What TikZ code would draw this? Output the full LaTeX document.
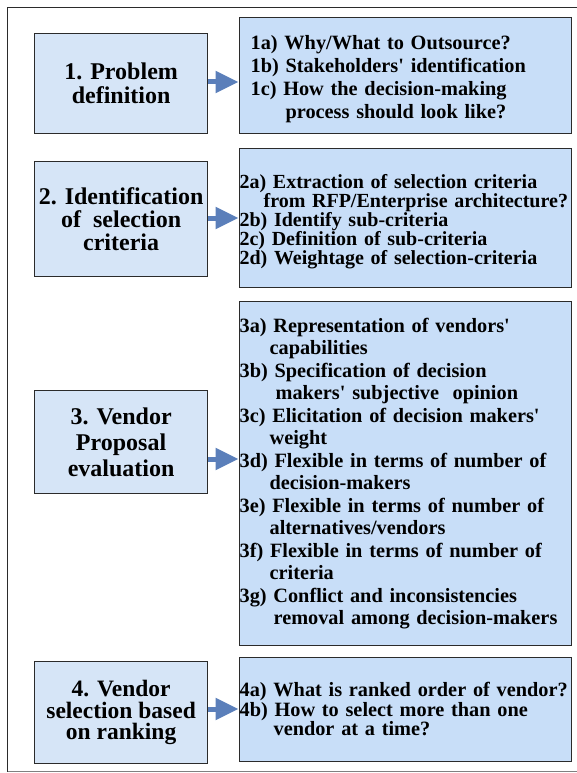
\documentclass[tikz,border=0pt]{standalone}
\usepackage{fontspec}
\setmainfont{Liberation Serif}[BoldFont={Liberation Serif Bold}]
\usetikzlibrary{arrows.meta}

\definecolor{stagefill}{HTML}{D6E5F7}
\definecolor{detailfill}{HTML}{C8DEF8}
\definecolor{flowblue}{HTML}{5B7FBA}
\definecolor{edgegray}{HTML}{2B2B2B}

\hyphenpenalty=10000
\exhyphenpenalty=10000
\newcommand{\ap}{\textquotesingle}

\begin{document}
\begin{tikzpicture}[x=1pt,y=1pt,
	stage/.style={draw=edgegray, line width=1.2pt, fill=stagefill, anchor=north west,
		minimum width=173pt, inner sep=0pt, align=center},
	detail/.style={draw=edgegray, line width=1.2pt, fill=detailfill, anchor=north west,
		minimum width=332.5pt, inner ysep=0pt, inner xsep=0.5pt, text width=331.5pt, align=left},
	flow/.style={draw=flowblue, line width=5pt, -{Triangle[length=23pt,width=21pt]}}]

\useasboundingbox (0,0) rectangle (577,-773);
\draw [edgegray, line width=1pt] (577,-7.5) -- (7.5,-7.5) -- (7.5,-771.5);
\draw [gray, line width=1pt] (7.5,-771.5) -- (577,-771.5);

\node(stage1)	[stage, minimum height=100pt, font=\bfseries\fontsize{24}{24}\selectfont]	at (34,-33)	{1. Problem\\definition};
\node(stage2)	[stage, minimum height=115pt, font=\bfseries\fontsize{24}{23}\selectfont]	at (34,-161)	{2. Identification\\of\ \ selection\\criteria};
\node(stage3)	[stage, minimum height=103pt, font=\bfseries\fontsize{24}{26}\selectfont]	at (34,-390)	{3. Vendor\\Proposal\\evaluation};
\node(stage4)	[stage, minimum height=102pt, font=\bfseries\fontsize{23.5}{21.5}\selectfont]	at (34,-661)	{4. Vendor\\selection based\\on ranking};

\node(detail1)	[detail, minimum height=116pt, inner xsep=11.5pt, text width=309.5pt,
	font=\bfseries\fontsize{20.3}{23}\selectfont]	at (238.5,-17)
	{\rule{0pt}{21pt}1a) Why/What to Outsource?\\1b) Stakeholders\ap{} identification\\1c) How the decision-making\\\hspace*{35pt}process should look like?};
\node(detail2)	[detail, minimum height=139pt, font=\bfseries\fontsize{20}{19}\selectfont]	at (238.5,-148)
	{\rule{0pt}{21pt}2a) Extraction of selection criteria\\\hspace*{24pt}\mbox{from RFP/Enterprise architecture?}\\2b) Identify sub-criteria\\2c) Definition of sub-criteria\\2d) Weightage of selection-criteria};
\node(detail3)	[detail, minimum height=344pt, font=\bfseries\fontsize{20.3}{22.5}\selectfont]	at (238.5,-301)
	{3a) Representation of vendors\ap\\\hspace*{30pt}capabilities\\3b) Specification of decision\\\hspace*{36pt}makers\ap{} subjective\ \ opinion\\3c) Elicitation of decision makers\ap\\\hspace*{30pt}weight\\3d) Flexible in terms of number of\\\hspace*{30pt}decision-makers\\3e) Flexible in terms of number of\\\hspace*{30pt}alternatives/vendors\\3f) Flexible in terms of number of\\\hspace*{30pt}criteria\\3g) Conflict and inconsistencies\\\hspace*{34pt}removal among decision-makers};
\node(detail4)	[detail, minimum height=103.5pt, font=\bfseries\fontsize{20.3}{19.5}\selectfont]	at (238.5,-657)
	{4a) What is ranked order of vendor?\\4b) How to select more than one\\\hspace*{34pt}vendor at a time?};

% heights of the arrows
\coordinate(lvl1)	at (0,-82);
\coordinate(lvl2)	at (0,-218);
\coordinate(lvl3)	at (0,-459);
\coordinate(lvl4)	at (0,-709);

\foreach \x in {1,2,3,4} {
	\draw [flow] (stage\x.east |- lvl\x) -- (detail\x.west |- lvl\x); }

\end{tikzpicture}
\end{document}
